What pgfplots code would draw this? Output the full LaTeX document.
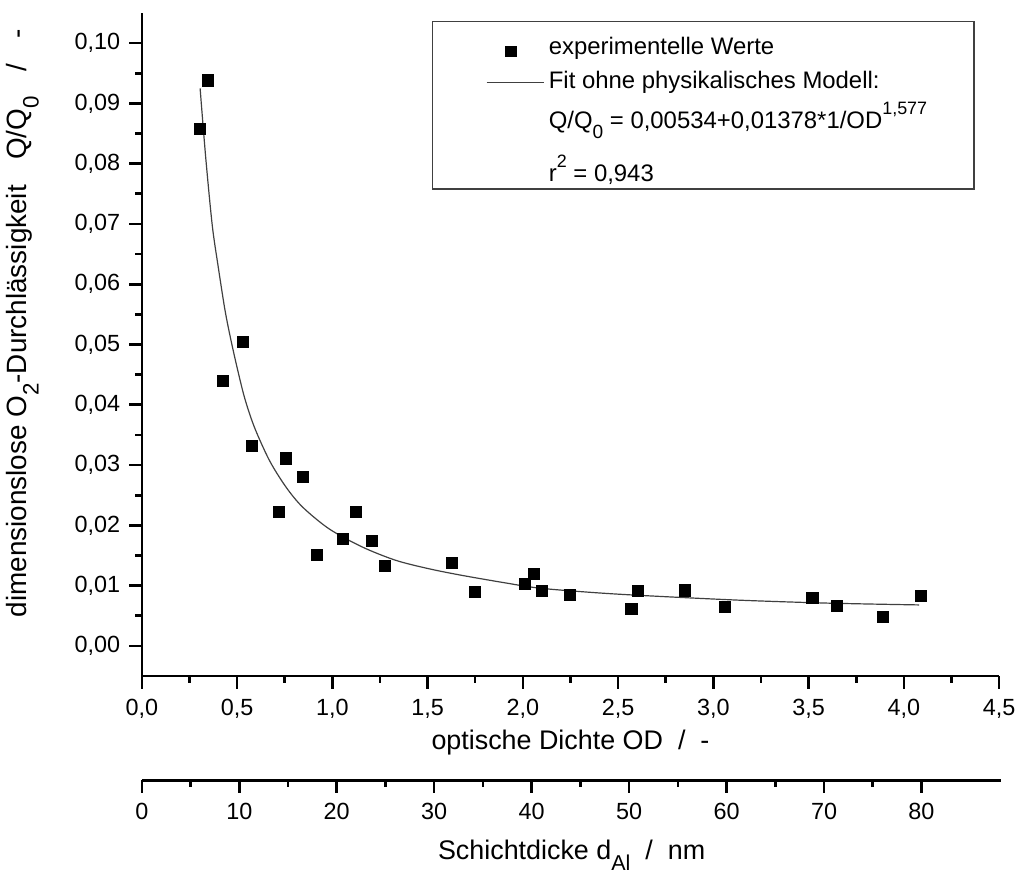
\documentclass[border=0pt]{standalone}
\usepackage{fontspec}
\setmainfont{Liberation Sans}
\usepackage{pgfplots}
\pgfplotsset{compat=1.18}
% Origin-like sub/superscripts (larger than LaTeX's default)
\newcommand{\osub}[1]{\raisebox{-0.42em}{\scalebox{0.8}{#1}}}
\newcommand{\osup}[1]{\smash{\raisebox{0.62em}{\scalebox{0.75}{#1}}}}
\pgfplotsset{
  lineimage/.style={legend image code/.code={\draw[##1,yshift=-2.05pt] (0pt,0pt) -- (29pt,0pt);}},
  markimage/.style={legend image code/.code={\draw[##1,mark size=2.6pt] plot coordinates {(12.3pt,-5.1pt)};}},
}

\begin{document}
\begin{tikzpicture}
\pgfplotsset{
  originaxis/.style={
    scale only axis,
    axis line style={line width=1.3pt,-},
    tick style={line width=1.3pt,black},
    tick align=outside,
    major tick length=6.3pt, minor tick length=3.3pt,
    /pgf/number format/assume math mode=true,
    /pgf/number format/use comma,
    tick label style={font=\fontsize{11.75}{14}\selectfont},
    label style={font=\fontsize{13.5}{16}\selectfont},
    xticklabel style={yshift=-1.8pt},
  },
}
\begin{axis}[originaxis, name=main, width=430.5pt, height=333pt,
  xmin=0, xmax=4.5, ymin=-0.005, ymax=0.105,
  axis x line*=bottom, axis y line*=left,
  xtick={0,0.5,1,1.5,2,2.5,3,3.5,4,4.5}, minor x tick num=1,
  ytick={0,0.01,0.02,0.03,0.04,0.05,0.06,0.07,0.08,0.09,0.1}, minor y tick num=1,
  scaled x ticks=false, scaled y ticks=false,
  xticklabel style={/pgf/number format/.cd, fixed, fixed zerofill, precision=1},
  yticklabel style={xshift=-1.1pt, /pgf/number format/.cd, fixed, fixed zerofill, precision=2},
  xlabel={optische Dichte OD\ \ /\ \ -},
  xlabel style={at={(axis description cs:0.5,0)}, anchor=north, yshift=-23.5pt},
  ylabel={dimensionslose O\osub{2}-Durchlässigkeit\hspace{0.9em}Q/Q\osub{0}\hspace{0.9em}/\hspace{0.9em}-},
  ylabel style={at={(axis description cs:-0.112,0.532)}, anchor=south,
    font=\fontsize{14}{16}\selectfont},
  legend cell align=left,
  legend style={at={(axis description cs:0.338,0.988)}, anchor=north west,
    draw=black!75, line width=0.6pt, inner xsep=27pt, inner ysep=0pt, row sep=0pt,
    font=\fontsize{12}{14}\selectfont},
]
\addplot[only marks, mark=square*, mark size=2.8pt, line width=0.4pt, black, markimage] coordinates {
  (0.305,0.0857) (0.348,0.0938) (0.427,0.0439) (0.531,0.0505) (0.577,0.0332)
  (0.718,0.0222) (0.756,0.0311) (0.847,0.0281) (0.918,0.0151) (1.057,0.0178)
  (1.125,0.0222) (1.209,0.0174) (1.277,0.0133) (1.629,0.0138) (1.748,0.0089)
  (2.010,0.0103) (2.058,0.0119) (2.100,0.0091) (2.247,0.0084) (2.570,0.0061)
  (2.606,0.0091) (2.849,0.0092) (3.061,0.0065) (3.520,0.0080) (3.650,0.0067)
  (3.890,0.0048) (4.091,0.0083)
};
\addlegendentry{\rule{0pt}{14.5pt}experimentelle Werte}
\addplot[smooth, black!75, line width=0.6pt, lineimage] coordinates {
  (0.306,0.0925) (0.336,0.0808) (0.370,0.0697) (0.400,0.0631) (0.435,0.0560)
  (0.462,0.0516) (0.497,0.0466) (0.540,0.0411) (0.592,0.0362) (0.671,0.0307)
  (0.758,0.0263) (0.845,0.0230) (0.984,0.0194) (1.158,0.0164) (1.333,0.0142)
  (1.507,0.0128) (1.681,0.0117) (1.900,0.0105) (2.083,0.0096) (2.350,0.0089)
  (2.605,0.0084) (3.127,0.0076) (3.600,0.0071) (4.080,0.0068)
};
\addlegendentry{\rule{0pt}{11.7pt}Fit ohne physikalisches Modell:}
\addlegendimage{empty legend}
\addlegendentry{\rule{0pt}{14.7pt}\makebox[184.5pt][l]{Q/Q\osub{0} = 0,00534+0,01378*1/OD\osup{1,577}}}
\addlegendimage{empty legend}
\addlegendentry{\rule{0pt}{21.2pt}r\osup{2} = 0,943}
\end{axis}
\begin{axis}[originaxis, at={(0pt,-52.3pt)}, anchor=south west,
  width=431.65pt, height=10pt,
  xmin=0, xmax=88.2, ymin=0, ymax=1,
  axis x line*=bottom, axis y line=none,
  xtick={0,10,20,30,40,50,60,70,80}, minor x tick num=1,
  xlabel={Schichtdicke d\osub{Al}\ \ /\ \ nm},
  xlabel style={at={(axis description cs:0.5,0)}, anchor=north, yshift=-26.5pt},
]
\end{axis}
\path[use as bounding box] (-70.85pt,-96.5pt) rectangle (440.15pt,339.5pt);
\end{tikzpicture}
\end{document}
